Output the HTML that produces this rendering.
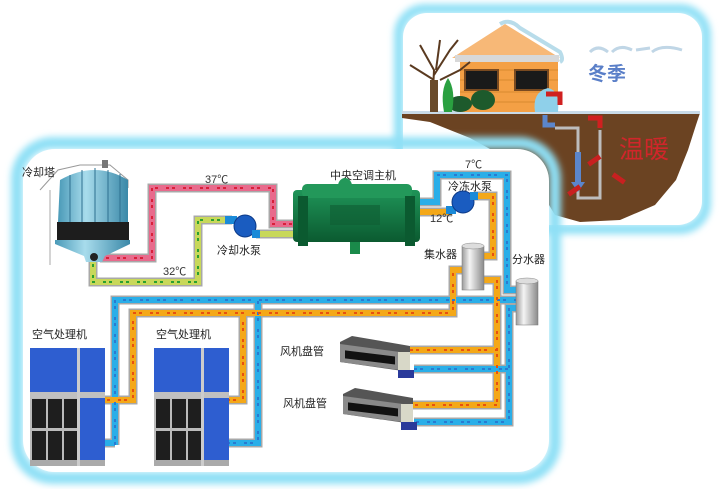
<!DOCTYPE html>
<html><head><meta charset="utf-8"><style>
html,body{margin:0;padding:0;background:#fff;}
svg{display:block;}
text{font-family:"Liberation Sans","Noto Sans CJK SC",sans-serif;}
</style></head><body>
<svg width="721" height="489" viewBox="0 0 721 489" xmlns="http://www.w3.org/2000/svg">
<defs>
<filter id="gl" x="-10%" y="-10%" width="120%" height="120%"><feGaussianBlur stdDeviation="3.5"/></filter>
<linearGradient id="cyl" x1="0" x2="1"><stop offset="0" stop-color="#9a9a9a"/><stop offset=".35" stop-color="#f4f4f4"/><stop offset="1" stop-color="#8a8a8a"/></linearGradient>
<linearGradient id="tw" x1="0" x2="1"><stop offset="0" stop-color="#4a9ab8"/><stop offset=".4" stop-color="#a8dcec"/><stop offset="1" stop-color="#3a88a8"/></linearGradient>
<linearGradient id="ch" x1="0" y1="0" x2="0" y2="1"><stop offset="0" stop-color="#1f9458"/><stop offset="1" stop-color="#0b5a30"/></linearGradient>
</defs>

<!-- winter panel -->
<rect x="399" y="9" width="307" height="220" rx="26" fill="none" stroke="#8fe0f6" stroke-width="10" filter="url(#gl)"/>
<rect x="403" y="13" width="299" height="212" rx="24" fill="#fff"/>
<path d="M402 113 L700 113 L696 125 L688 150 L676 180 L655 205 L620 220 L580 222 L555 215 L540 190 L510 160 L470 138 L430 122 L402 118 Z" fill="#6b4322"/>
<rect x="402" y="111" width="298" height="3" fill="#c9dbe8"/>
<path d="M452 58 L505 24 L560 58 Z" fill="#f7b877"/>
<path d="M500 24 Q510 18 520 28 L560 52 Q564 60 560 62" fill="none" stroke="#b8dcea" stroke-width="4"/>
<rect x="455" y="55" width="104" height="7" fill="#d8d8d8"/>
<rect x="460" y="62" width="98" height="50" fill="#f4a045"/>
<g stroke="#d98a30" stroke-width="1"><line x1="460" y1="70" x2="558" y2="70"/><line x1="460" y1="80" x2="558" y2="80"/><line x1="460" y1="92" x2="558" y2="92"/><line x1="460" y1="102" x2="558" y2="102"/></g>
<rect x="465" y="70" width="33" height="20" fill="#1a1a1a" stroke="#7a4a20" stroke-width="2"/>
<rect x="515" y="70" width="33" height="20" fill="#1a1a1a" stroke="#7a4a20" stroke-width="2"/>
<ellipse cx="483" cy="100" rx="12" ry="10" fill="#1d5a2c"/>
<ellipse cx="460" cy="104" rx="12" ry="8" fill="#1d5a2c"/>
<path d="M444 112 Q440 90 448 78 Q456 90 452 112 Z" fill="#2aa040"/>
<path d="M535 112 Q532 92 548 88 Q560 90 558 112 Z" fill="#8fd0ea"/>
<g stroke="#5a3a20" fill="none" stroke-width="2"><path d="M432 112 L434 70 L420 45"/><path d="M434 75 L450 50 L458 40"/><path d="M434 80 L410 65"/><path d="M436 70 L440 40"/><path d="M440 80 L460 70 L470 62"/></g>
<rect x="430" y="80" width="8" height="32" fill="#6a4a2a"/>
<path d="M555 128 L578 128 L578 198 L600 198 L600 130" fill="none" stroke="#bdbdbd" stroke-width="3"/>
<path d="M545 115 L545 125 L555 125" fill="none" stroke="#5b86cc" stroke-width="5"/>
<rect x="575" y="152" width="6" height="30" fill="#5b86cc"/><path d="M571 182 L585 182 L578 192 Z" fill="#5b86cc"/>
<path d="M560 105 L560 94 L546 94" fill="none" stroke="#d02020" stroke-width="5"/>
<path d="M600 128 L600 118 L588 118" fill="none" stroke="#d02020" stroke-width="5"/>
<g fill="#c82020"><rect x="587" y="158" width="14" height="5" transform="rotate(-35 594 160)"/><rect x="567" y="188" width="14" height="5" transform="rotate(-35 574 190)"/><rect x="612" y="176" width="14" height="5" transform="rotate(35 619 178)"/></g>
<g fill="none" stroke="#c0d6e6" stroke-width="3"><path d="M590 52 Q598 44 608 52"/><path d="M612 52 Q620 44 632 50"/><path d="M636 50 L650 48"/><path d="M652 52 Q662 44 682 50"/></g>
<text x="588" y="80" font-size="19" fill="#5a7fc8" font-weight="bold">冬季</text>
<text x="619" y="158" font-size="25" fill="#d0262a">温暖</text>

<!-- main panel -->
<rect x="17" y="143" width="538" height="335" rx="36" fill="none" stroke="#8fe0f6" stroke-width="12" filter="url(#gl)"/>
<rect x="23" y="149" width="526" height="323" rx="32" fill="#fff"/>

<g fill="none" stroke-linejoin="miter">
<g stroke="#a8a8a8" stroke-width="9">
<path d="M100 258 L152 258 L152 188 L273 188 L273 224 L295 224"/>
<path d="M93 258 L93 282 L198 282 L198 220 L232 220"/>
<path d="M256 234 L295 234"/>
<path d="M420 202 L437 202 L437 175 L507 175 L507 290 L518 290"/>
<path d="M420 212 L452 212"/>
<path d="M474 196 L493 196 L493 256 L484 256"/>
<path d="M115 445 L115 300 L518 300"/>
<path d="M88 443 L115 443"/><path d="M210 443 L258 443 L258 300"/>
<path d="M84 400 L133 400 L133 313 L453 313 L453 270 L463 270"/>
<path d="M210 400 L243 400 L243 313"/>
<path d="M484 280 L497 280 L497 405 L410 405"/><path d="M410 350 L497 350"/>
<path d="M518 308 L509 308 L509 422 L414 422"/><path d="M414 369 L509 369"/>
</g>
<g stroke-width="6">
<path stroke="#e86a8c" d="M100 258 L152 258 L152 188 L273 188 L273 224 L295 224"/>
<path stroke="#c8d85a" d="M93 258 L93 282 L198 282 L198 220 L232 220"/>
<path stroke="#c8d85a" d="M256 234 L295 234"/>
<path stroke="#2aaee8" d="M420 202 L437 202 L437 175 L507 175 L507 290 L518 290"/>
<path stroke="#f4a818" d="M420 212 L452 212"/>
<path stroke="#f4a818" d="M474 196 L493 196 L493 256 L484 256"/>
<path stroke="#2aaee8" d="M115 445 L115 300 L518 300"/>
<path stroke="#2aaee8" d="M88 443 L115 443"/><path stroke="#2aaee8" d="M210 443 L258 443 L258 300"/>
<path stroke="#f4a818" d="M84 400 L133 400 L133 313 L453 313 L453 270 L463 270"/>
<path stroke="#f4a818" d="M210 400 L243 400 L243 313"/>
<path stroke="#f4a818" d="M484 280 L497 280 L497 405 L410 405"/><path stroke="#f4a818" d="M410 350 L497 350"/>
<path stroke="#2aaee8" d="M518 308 L509 308 L509 422 L414 422"/><path stroke="#2aaee8" d="M414 369 L509 369"/>
</g>
<g stroke-width="2" stroke-dasharray="3 3 3 8">
<path stroke="#d8203a" d="M100 258 L152 258 L152 188 L273 188 L273 224 L295 224"/>
<path stroke="#2aa030" d="M93 258 L93 282 L198 282 L198 220 L232 220"/>
<path stroke="#2a7ad0" d="M437 175 L507 175 L507 290"/>
<path stroke="#2a7ad0" d="M115 445 L115 300 L518 300"/>
<path stroke="#2a7ad0" d="M210 443 L258 443 L258 300"/>
<path stroke="#e85010" d="M84 400 L133 400 L133 313 L453 313 L453 270"/>
<path stroke="#e85010" d="M210 400 L243 400 L243 313"/>
<path stroke="#e85010" d="M493 196 L493 256"/>
<path stroke="#e85010" d="M497 280 L497 405 L410 405"/><path stroke="#e85010" d="M410 350 L497 350"/>
<path stroke="#2a7ad0" d="M509 308 L509 422 L414 422"/><path stroke="#2a7ad0" d="M414 369 L509 369"/>
</g>
</g>

<g>
<path d="M40 190 L58 170 L80 165 L110 165 L128 180 L128 188" fill="none" stroke="#999" stroke-width="1"/>
<line x1="50" y1="190" x2="50" y2="265" stroke="#aaa"/>
<rect x="102" y="160" width="6" height="8" fill="#777"/>
<path d="M60 180 Q95 160 128 180 L128 222 L58 222 Z" fill="url(#tw)"/>
<g stroke="#2e7090" stroke-width="1"><line x1="70" y1="175" x2="70" y2="222"/><line x1="82" y1="170" x2="82" y2="222"/><line x1="95" y1="168" x2="95" y2="222"/><line x1="108" y1="170" x2="108" y2="222"/><line x1="120" y1="174" x2="120" y2="222"/></g>
<rect x="57" y="222" width="72" height="18" fill="#1d1d1d"/>
<path d="M55 240 L130 240 L130 244 L105 256 L102 262 L86 262 L84 256 L55 244 Z" fill="url(#tw)"/>
<circle cx="94" cy="257" r="4" fill="#222"/>
</g>
<text x="22" y="176" font-size="11" fill="#222">冷却塔</text>
<text x="205" y="183" font-size="11" fill="#333">37℃</text>
<text x="163" y="275" font-size="11" fill="#333">32℃</text>
<text x="217" y="254" font-size="11" fill="#222">冷却水泵</text>
<rect x="225" y="216" width="12" height="8" fill="#1a8ad8"/>
<circle cx="245" cy="226" r="11" fill="#1a5cc0" stroke="#0c3a88"/>
<rect x="252" y="230" width="8" height="8" fill="#1a8ad8"/>

<text x="330" y="179" font-size="11" fill="#222">中央空调主机</text>
<rect x="293" y="190" width="127" height="52" rx="4" fill="url(#ch)"/>
<rect x="302" y="184" width="110" height="14" rx="5" fill="#23985a"/>
<ellipse cx="345" cy="186" rx="7" ry="8" fill="#23985a"/>
<rect x="298" y="196" width="10" height="50" fill="#0b5a30"/>
<rect x="405" y="196" width="10" height="50" fill="#0b5a30"/>
<rect x="350" y="242" width="10" height="12" fill="#1a8a4a"/>
<rect x="330" y="205" width="50" height="20" fill="#0f5e34" opacity=".6"/>

<text x="465" y="168" font-size="11" fill="#333">7℃</text>
<text x="448" y="190" font-size="11" fill="#222">冷冻水泵</text>
<text x="430" y="222" font-size="11" fill="#333">12℃</text>
<rect x="446" y="206" width="10" height="8" fill="#1a8ad8"/>
<circle cx="463" cy="202" r="11" fill="#1a5cc0" stroke="#0c3a88"/>
<rect x="470" y="192" width="8" height="8" fill="#1a8ad8"/>

<text x="424" y="258" font-size="11" fill="#222">集水器</text>
<rect x="462" y="246" width="22" height="44" fill="url(#cyl)" stroke="#777" stroke-width=".5"/><ellipse cx="473" cy="246" rx="11" ry="3" fill="#ddd" stroke="#888" stroke-width=".5"/>
<text x="512" y="263" font-size="11" fill="#222">分水器</text>
<rect x="516" y="281" width="22" height="44" fill="url(#cyl)" stroke="#777" stroke-width=".5"/><ellipse cx="527" cy="281" rx="11" ry="3" fill="#ddd" stroke="#888" stroke-width=".5"/>

<g id="ahu">
<text x="32" y="338" font-size="11" fill="#222">空气处理机</text>
<rect x="30" y="348" width="75" height="44" fill="#2e5ed0"/>
<rect x="30" y="392" width="75" height="6" fill="#c0c0c0"/>
<rect x="30" y="398" width="50" height="64" fill="#bbb"/>
<g fill="#1e1e1e"><rect x="32" y="399" width="14" height="29"/><rect x="48" y="399" width="14" height="29"/><rect x="64" y="399" width="14" height="29"/><rect x="32" y="431" width="14" height="29"/><rect x="48" y="431" width="14" height="29"/><rect x="64" y="431" width="14" height="29"/></g>
<rect x="80" y="398" width="25" height="62" fill="#2e5ed0"/>
<rect x="30" y="460" width="75" height="6" fill="#aaa"/>
<rect x="77" y="348" width="3" height="118" fill="#ccc"/>
</g>
<use href="#ahu" x="124"/>

<g id="fc">
<text x="280" y="355" font-size="11" fill="#222">风机盘管</text>
<path d="M340 342 L352 336 L410 346 L410 372 L340 362 Z" fill="#555"/>
<path d="M340 344 L400 352 L400 370 L340 362 Z" fill="#8a8a8a"/>
<rect x="345" y="350" width="50" height="8" fill="#111" transform="skewY(7) translate(0,-42)"/>
<rect x="398" y="352" width="12" height="22" fill="#d8d8c8"/>
<rect x="398" y="370" width="16" height="8" fill="#2a3a9a"/>
</g>
<use href="#fc" x="3" y="52"/>
</svg>
</body></html>
